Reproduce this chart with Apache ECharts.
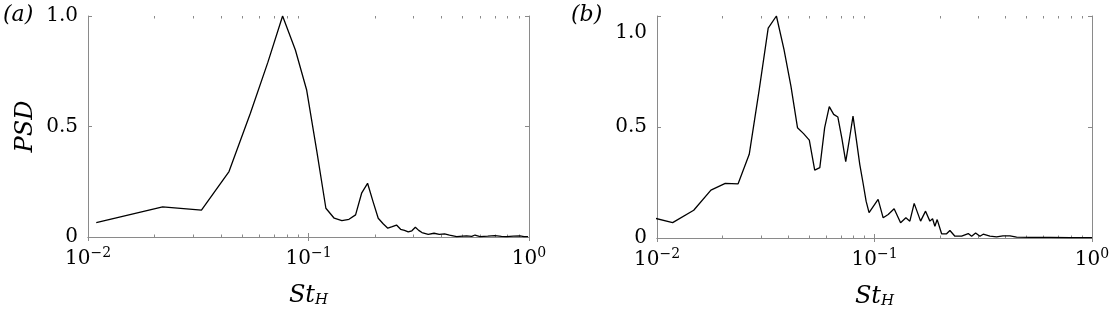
<!DOCTYPE html>
<html>
<head>
<meta charset="utf-8">
<script src="https://cdn.jsdelivr.net/npm/echarts@6/dist/echarts.min.js"></script>
<style>
  html, body { margin: 0; padding: 0; background: #fff; }
  #chart { width: 1110px; height: 317px; }
</style>
</head>
<body>
<div id="chart"></div>
<script>
// panel (a): Strouhal number and normalised PSD
var stA = [0.0109, 0.0218, 0.0327, 0.0436, 0.0545, 0.0654, 0.0763, 0.0872, 0.0981, 0.109,
  0.1199, 0.1308, 0.1417, 0.1526, 0.1635, 0.1744, 0.1853, 0.1962, 0.2071, 0.218,
  0.2289, 0.2398, 0.2507, 0.2616, 0.2725, 0.2834, 0.2943, 0.3052, 0.3161, 0.327,
  0.349, 0.371, 0.392, 0.414, 0.436, 0.47, 0.50, 0.521, 0.55, 0.569,
  0.60, 0.65, 0.70, 0.75, 0.79, 0.85, 0.91, 0.95, 0.99]
var psdA = [0.065, 0.136, 0.122, 0.296, 0.56, 0.79, 1.0, 0.846, 0.665, 0.39,
  0.13, 0.085, 0.074, 0.08, 0.10, 0.20, 0.243, 0.16, 0.085, 0.06,
  0.04, 0.047, 0.054, 0.035, 0.03, 0.023, 0.028, 0.044, 0.03, 0.02,
  0.012, 0.017, 0.012, 0.014, 0.009, 0.002, 0.004, 0.005, 0.003, 0.009,
  0.002, 0.004, 0.006, 0.003, 0.002, 0.004, 0.005, 0.002, 0.002]

// panel (b)
var stB = [0.00885, 0.0118, 0.01475, 0.0177, 0.0206, 0.0236, 0.02655, 0.0295, 0.03245, 0.0354,
  0.03835, 0.0413, 0.04425, 0.0472, 0.05015, 0.0531, 0.05605, 0.059, 0.06195, 0.0649,
  0.06785, 0.0708, 0.07375, 0.0767, 0.07965, 0.0826, 0.08555, 0.0885, 0.0915, 0.0944,
  0.1039, 0.1096, 0.1156, 0.1231, 0.1318, 0.1394, 0.1454, 0.1522, 0.1629, 0.1717,
  0.1797, 0.1849, 0.1895, 0.1942, 0.2035, 0.2145, 0.2222, 0.2343, 0.2515, 0.2698,
  0.2796, 0.2917, 0.3053, 0.3161, 0.3394, 0.3642, 0.3895, 0.4195, 0.4502, 0.52,
  0.64, 0.79, 1.0]
var psdB = [0.10, 0.069, 0.125, 0.216, 0.246, 0.244, 0.377, 0.667, 0.945, 1.0,
  0.85, 0.683, 0.497, 0.47, 0.441, 0.306, 0.317, 0.497, 0.592, 0.557,
  0.545, 0.449, 0.344, 0.446, 0.549, 0.44, 0.332, 0.25, 0.166, 0.114,
  0.174, 0.091, 0.106, 0.132, 0.069, 0.091, 0.076, 0.156, 0.076, 0.121,
  0.076, 0.087, 0.053, 0.083, 0.019, 0.019, 0.034, 0.008, 0.008, 0.02,
  0.008, 0.023, 0.008, 0.017, 0.008, 0.005, 0.01, 0.01, 0.004, 0.003,
  0.003, 0.002, 0.002]

// minor tick positions on the St axis (2..9 x 10^k)
var xMinor = [0.02, 0.03, 0.04, 0.05, 0.06, 0.07, 0.08, 0.09, 0.2, 0.3, 0.4, 0.5, 0.6, 0.7, 0.8, 0.9]

var serif = 'DejaVu Serif'
var boxColor = '#8a8a8a'

var rects = [
  { left: 88, top: 16, width: 441, height: 221 },
  { left: 657, top: 16, width: 435, height: 222 }
]

function pairs(xs, ys) {
  return xs.map(function (x, i) { return [x, ys[i]] })
}

function xMain(g) {
  var base = {
    type: 'log', logBase: 10, min: 0.01, max: 1, gridIndex: g,
    splitLine: { show: false },
    axisLine: { lineStyle: { color: boxColor, width: 1 } },
    axisTick: { inside: true, length: 4, lineStyle: { color: boxColor } }
  }
  var bottom = Object.assign({}, base, {
    position: 'bottom',
    axisLabel: {
      margin: 9,
      fontFamily: serif, fontSize: 20, color: '#000',
      formatter: function (v) {
        var e = Math.round(Math.log(v) / Math.LN10)
        return '{b|10}{s|' + (e < 0 ? '\u2212' + (-e) : e) + '}'
      },
      rich: {
        b: { fontFamily: serif, fontSize: 20, color: '#000' },
        s: { fontFamily: serif, fontSize: 14, color: '#000', padding: [0, 0, 11, 0] }
      }
    },
    name: '{i|St}{h|H}',
    nameLocation: 'middle',
    nameGap: 46,
    nameTextStyle: {
      rich: {
        i: { fontFamily: serif, fontStyle: 'italic', fontSize: 24, color: '#000' },
        h: { fontFamily: serif, fontStyle: 'italic', fontSize: 15, color: '#000', padding: [10, 0, 0, 0] }
      }
    }
  })
  var top = Object.assign({}, base, { position: 'top', axisLabel: { show: false } })
  return [bottom, top]
}

// minor ticks live on a twin grid, on plain axes counted in decades
function xMinorAxes(g) {
  return ['bottom', 'top'].map(function (p) {
    return {
      type: 'value', min: -2, max: 0, gridIndex: g, position: p,
      splitLine: { show: false },
      axisLine: { show: false },
      axisTick: { show: true, inside: true, length: 2.5, customValues: xMinor.map(Math.log10), lineStyle: { color: boxColor } },
      axisLabel: { show: false }
    }
  })
}

function yMain(g, withName, shiftTop) {
  var left = {
    type: 'value', min: 0, max: 1, interval: 0.5, gridIndex: g, position: 'left',
    splitLine: { show: false },
    axisLine: { show: true, lineStyle: { color: boxColor, width: 1 } },
    axisTick: { show: true, inside: true, length: 4, lineStyle: { color: boxColor } },
    axisLabel: {
      margin: 10,
      fontFamily: serif, fontSize: 20, color: '#000',
      formatter: function (v) {
        var s = v === 0 ? '0' : v.toFixed(1)
        return '{' + ((shiftTop && v === 1) ? 'd' : 'n') + '|' + s + '}'
      },
      rich: {
        n: { fontFamily: serif, fontSize: 20, color: '#000' },
        d: { fontFamily: serif, fontSize: 20, color: '#000', padding: [34, 0, 0, 0] }
      }
    }
  }
  if (withName) {
    left.name = 'PSD'
    left.nameLocation = 'middle'
    left.nameGap = 50
    left.nameTextStyle = { fontFamily: serif, fontStyle: 'italic', fontSize: 24, color: '#000' }
  }
  var right = {
    type: 'value', min: 0, max: 1, interval: 0.5, gridIndex: g, position: 'right',
    splitLine: { show: false },
    axisLine: { show: true, lineStyle: { color: boxColor, width: 1 } },
    axisTick: { show: true, inside: true, length: 4, lineStyle: { color: boxColor } },
    axisLabel: { show: false }
  }
  return [left, right]
}

function yHidden(g) {
  return { type: 'value', min: 0, max: 1, gridIndex: g, show: false }
}

var chart = echarts.init(document.getElementById('chart'), null, { renderer: 'canvas' })

var grids = rects.concat(rects).map(function (r) {
  return Object.assign({ containLabel: false, outerBoundsMode: 'none' }, r)
})

chart.setOption({
  animation: false,
  backgroundColor: '#fff',
  textStyle: { fontFamily: serif, color: '#000' },
  grid: grids,
  // axes 0-1: grid 0, 2-3: grid 1, 4-5: minor grid 2, 6-7: minor grid 3
  xAxis: xMain(0).concat(xMain(1), xMinorAxes(2), xMinorAxes(3)),
  yAxis: yMain(0, true, false).concat(yMain(1, false, true), [yHidden(2), yHidden(3)]),
  graphic: [
    { type: 'text', left: 3, top: 4, style: { text: '(a)', font: 'italic 22px DejaVu Serif', fill: '#000' } },
    { type: 'text', left: 571, top: 4, style: { text: '(b)', font: 'italic 22px DejaVu Serif', fill: '#000' } }
  ],
  series: [
    {
      type: 'line', xAxisIndex: 0, yAxisIndex: 0,
      data: pairs(stA, psdA),
      showSymbol: false, clip: true,
      lineStyle: { color: '#000', width: 1.3 }
    },
    {
      type: 'line', xAxisIndex: 2, yAxisIndex: 2,
      data: pairs(stB, psdB),
      showSymbol: false, clip: true,
      lineStyle: { color: '#000', width: 1.3 }
    }
  ]
})
</script>
</body>
</html>
